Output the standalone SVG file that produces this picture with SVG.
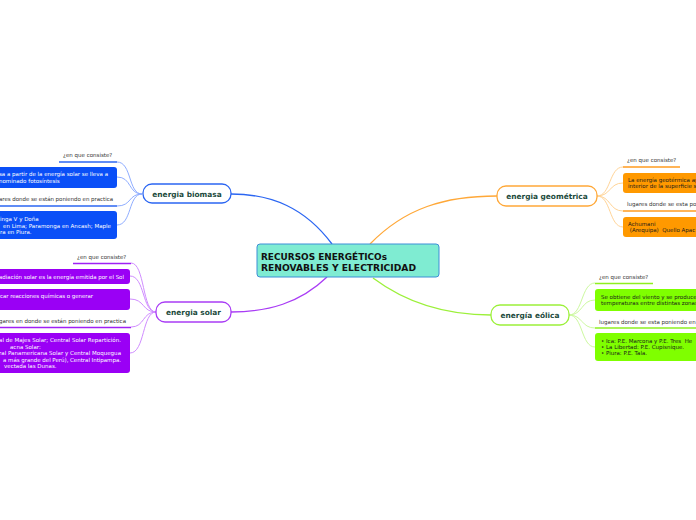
<svg xmlns="http://www.w3.org/2000/svg" width="696" height="520" viewBox="0 0 696 520">
<style>
.bg{fill:#ffffff}
.main{fill:#7fecd2;stroke:#3d8fd6;stroke-width:1}
.mt{font-family:"DejaVu Sans",Verdana,sans-serif;font-weight:bold;font-size:8.6px;fill:#111}
.nt{font-family:"DejaVu Sans",Verdana,sans-serif;font-weight:bold;font-size:7.4px;fill:#1b4a3c;text-anchor:middle}
.node{fill:#fff;stroke-width:1.3}
.st{font-family:"DejaVu Sans",Verdana,sans-serif;font-size:5.5px}
.dark{fill:#333}
.wt{fill:#fff}
.bk{fill:#1a1a1a}
.c{fill:none}
.blue{stroke:#2b66f2}
.blueL{stroke:#8fadff}
.pur{stroke:#a93cf5}
.purL{stroke:#d08cff}
.ora{stroke:#ffa838}
.oraL{stroke:#ffd497}
.grn{stroke:#9cf03a}
.grnL{stroke:#cdf9a0}
</style>
<rect class="bg" x="0" y="0" width="696" height="520"/>
<g id="connectors" class="c">
<path class="blue" stroke-width="1.3" d="M332 244 C305 208 272 194 231 194"/>
<path class="pur" stroke-width="1.3" d="M327 277 C300 303 268 312 231 312"/>
<path class="ora" stroke-width="1.3" d="M370 244 C405 208 445 196 497 196"/>
<path class="grn" stroke-width="1.3" d="M373 278 C405 302 445 315 491 315"/>
<g class="blueL" stroke-width="1">
<path d="M142 194 C128 194 132 162 117 162"/>
<path d="M142 194 C128 194 132 177 117 177"/>
<path d="M142 194 C128 194 132 206 117 206"/>
<path d="M142 194 C128 194 132 225 117 225"/>
</g>
<g class="purL" stroke-width="1">
<path d="M156 312 C142 312 145 263 131 263"/>
<path d="M156 312 C142 312 145 276 130 276"/>
<path d="M156 312 C142 312 145 299 130 299"/>
<path d="M156 312 C142 312 145 327 131 327"/>
<path d="M156 312 C142 312 145 353 130 353"/>
</g>
<g class="oraL" stroke-width="1">
<path d="M597 196 C611 196 609 167 623 167"/>
<path d="M597 196 C611 196 609 183 623 183"/>
<path d="M597 196 C611 196 609 211 623 211"/>
<path d="M597 196 C611 196 609 227 623 227"/>
</g>
<g class="grnL" stroke-width="1">
<path d="M569 315 C583 315 581 283 595 283"/>
<path d="M569 315 C583 315 581 300 595 300"/>
<path d="M569 315 C583 315 581 328 595 328"/>
<path d="M569 315 C583 315 581 347 595 347"/>
</g>
</g>
<g id="central">
<rect class="main" x="257" y="244" width="182" height="33" rx="3"/>
<text class="mt" x="261" y="259.5" textLength="126" lengthAdjust="spacingAndGlyphs">RECURSOS ENERGÉTICOs</text>
<text class="mt" x="261" y="270.5" textLength="155" lengthAdjust="spacingAndGlyphs">RENOVABLES Y ELECTRICIDAD</text>
</g>
<g id="biomasa">
<rect class="node blue" x="143" y="184" width="88" height="19" rx="9"/>
<text class="nt" x="187" y="196.5">energia biomasa</text>
</g>
<g id="biomasa-q">
<text class="st dark" x="63" y="157">¿en que consiste?</text>
<line x1="59" y1="162" x2="117" y2="162" stroke="#2b66f2" stroke-width="1.4"/>
</g>
<g id="biomasa-a">
<rect x="-10" y="167" width="127" height="21" rx="3" fill="#0a4ff7"/>
<text class="st wt" x="-1" y="176" textLength="109" lengthAdjust="spacing">sa a partir de la energía solar se lleva a</text>
<text class="st wt" x="-1" y="183">nominado fotosíntesis</text>
</g>
<g id="biomasa-l">
<text class="st dark" x="-1" y="201" textLength="114" lengthAdjust="spacing">ares donde se están poniendo en practica</text>
<line x1="-2" y1="206" x2="117" y2="206" stroke="#2b66f2" stroke-width="1.4"/>
</g>
<g id="biomasa-b">
<rect x="-10" y="211" width="127" height="28" rx="3" fill="#0a4ff7"/>
<text class="st wt" x="0" y="221">inga V y Doña</text>
<text class="st wt" x="3" y="227.5" textLength="108" lengthAdjust="spacing">en Lima; Paramonga en Ancash; Maple</text>
<text class="st wt" x="0" y="234">ra en Piura.</text>
</g>
<g id="solar">
<rect class="node pur" x="156" y="302" width="75" height="20" rx="9"/>
<text class="nt" x="193.5" y="314.5">energia solar</text>
</g>
<g id="solar-q">
<text class="st dark" x="77" y="259">¿en que consiste?</text>
<line x1="73" y1="263.5" x2="131" y2="263.5" stroke="#a020f5" stroke-width="1.4"/>
</g>
<g id="solar-a">
<rect x="-10" y="269" width="140" height="15" rx="3" fill="#9a00f5"/>
<text class="st wt" x="-1" y="278.5" textLength="125" lengthAdjust="spacing">adiación solar es la energía emitida por el Sol</text>
</g>
<g id="solar-b">
<rect x="-10" y="289" width="140" height="21" rx="3" fill="#9a00f5"/>
<text class="st wt" x="0" y="298" textLength="93" lengthAdjust="spacing">car reacciones químicas o generar</text>
</g>
<g id="solar-l">
<text class="st dark" x="-1" y="323" textLength="127" lengthAdjust="spacing">gares en donde se están poniendo en practica</text>
<line x1="-2" y1="327.5" x2="131" y2="327.5" stroke="#a020f5" stroke-width="1.4"/>
</g>
<g id="solar-c">
<rect x="-10" y="333" width="140" height="40" rx="3" fill="#9a00f5"/>
<text class="st wt" x="-1" y="342" textLength="122" lengthAdjust="spacing">al de Majes Solar; Central Solar Repartición.</text>
<text class="st wt" x="10" y="348.5">acna Solar:</text>
<text class="st wt" x="-1" y="355" textLength="122" lengthAdjust="spacing">ral Panamericana Solar y Central Moquegua</text>
<text class="st wt" x="3" y="361.5" textLength="118" lengthAdjust="spacing">a más grande del Perú), Central Intipampa.</text>
<text class="st wt" x="4" y="368">vectada las Dunas.</text>
</g>
<g id="geometrica">
<rect class="node ora" x="497" y="186" width="100" height="20" rx="9"/>
<text class="nt" x="547" y="198.5">energia geométrica</text>
</g>
<g id="geo-q">
<text class="st dark" x="627" y="162">¿en que consiste?</text>
<line x1="623" y1="167" x2="680" y2="167" stroke="#ff9b1f" stroke-width="1.4"/>
</g>
<g id="geo-a">
<rect x="623" y="173" width="90" height="20" rx="3" fill="#ff9900"/>
<text class="st bk" x="628" y="182">La energía geotérmica ap</text>
<text class="st bk" x="628" y="188">interior de la superficie s</text>
</g>
<g id="geo-l">
<text class="st dark" x="627" y="206">lugares donde se esta po</text>
<line x1="623" y1="211" x2="700" y2="211" stroke="#ff9b1f" stroke-width="1.4"/>
</g>
<g id="geo-b">
<rect x="623" y="217" width="90" height="20" rx="3" fill="#ff9900"/>
<text class="st bk" x="628" y="226">Achumani</text>
<text class="st bk" x="628" y="232" xml:space="preserve"> (Arequipa)  Quello Apac</text>
</g>
<g id="eolica">
<rect class="node grn" x="491" y="305" width="78" height="20" rx="9"/>
<text class="nt" x="530" y="317.5">energía eólica</text>
</g>
<g id="eol-q">
<text class="st dark" x="599" y="279">¿en que consiste?</text>
<line x1="595" y1="283.5" x2="653" y2="283.5" stroke="#8ef020" stroke-width="1.4"/>
</g>
<g id="eol-a">
<rect x="595" y="289" width="110" height="22" rx="3" fill="#7fff00"/>
<text class="st bk" x="601" y="298.5">Se obtiene del viento y se produce</text>
<text class="st bk" x="601" y="304.5">temperaturas entre distintas zonas</text>
</g>
<g id="eol-l">
<text class="st dark" x="599" y="323.5">lugares donde se esta poniendo en</text>
<line x1="595" y1="328" x2="700" y2="328" stroke="#8ef020" stroke-width="1.4"/>
</g>
<g id="eol-b">
<rect x="595" y="333" width="110" height="28" rx="3" fill="#7fff00"/>
<text class="st bk" x="601" y="342.5" xml:space="preserve">• Ica: P.E. Marcona y P.E. Tres  He</text>
<text class="st bk" x="601" y="348.5">• La Libertad: P.E. Cupisnique.</text>
<text class="st bk" x="601" y="354.5">• Piura: P.E. Tala.</text>
</g>
</svg>
